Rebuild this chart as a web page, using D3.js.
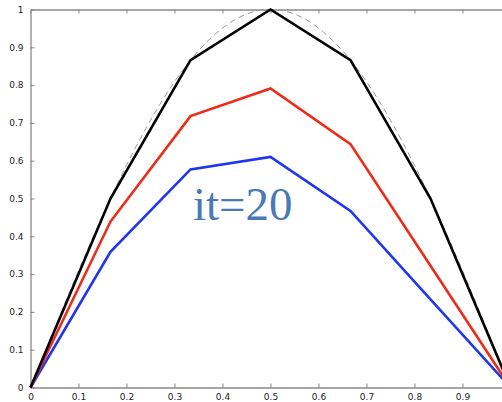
<!DOCTYPE html>
<html><head><meta charset="utf-8">
<script src="https://cdn.jsdelivr.net/npm/d3@7"></script>
<style>body{margin:0;background:#fff}svg{display:block}</style>
</head><body>
<svg id="c" width="502" height="402"></svg>
<script>
const xGrid = [0, 1/6, 1/3, 1/2, 2/3, 5/6, 1];
const exact = [0, 0.5, 0.866, 1, 0.866, 0.5, 0];
const red   = [0, 0.439, 0.718, 0.791, 0.644, 0.322, 0];
const blue  = [0, 0.359, 0.577, 0.610, 0.467, 0.233, 0];
const xTrue = [0,0.05,0.1,0.15,0.2,0.25,0.3,0.35,0.4,0.45,0.5,0.55,0.6,0.65,0.7,0.75,0.8,0.85,0.9,0.95,1];
const yTrue = [0,0.156,0.309,0.454,0.588,0.707,0.809,0.891,0.951,0.988,1,0.988,0.951,0.891,0.809,0.707,0.588,0.454,0.309,0.156,0];
const xTicks = [0,0.1,0.2,0.3,0.4,0.5,0.6,0.7,0.8,0.9];
const yTicks = [0,0.1,0.2,0.3,0.4,0.5,0.6,0.7,0.8,0.9,1];
const label = "it=20";

const svg = d3.select("#c");
const x = d3.scaleLinear().domain([0,1]).range([30.5, 510.5]);
const y = d3.scaleLinear().domain([0,1]).range([387.5, 9.5]);
const fmt = d => d === 0 ? "0" : d === 1 ? "1" : d3.format(".1f")(d);

const axCol = "#888";
const gx = svg.append("g").attr("transform","translate(0,387.5)")
  .call(d3.axisBottom(x).tickValues(xTicks).tickFormat(fmt).tickSizeInner(-4).tickSizeOuter(0).tickPadding(6));
const gt = svg.append("g").attr("transform","translate(0,9.5)")
  .call(d3.axisTop(x).tickValues(xTicks).tickFormat("").tickSizeInner(-4).tickSizeOuter(0));
const gy = svg.append("g").attr("transform","translate(30.5,0)")
  .call(d3.axisLeft(y).tickValues(yTicks).tickFormat(fmt).tickSizeInner(-4).tickSizeOuter(0).tickPadding(7));
[gx,gt,gy].forEach(g=>{
  g.selectAll("path.domain").attr("stroke",axCol).attr("stroke-width",1.3);
  g.selectAll(".tick line").attr("stroke",axCol);
  g.selectAll("text").attr("fill","#222").style("font-family","DejaVu Sans, sans-serif").style("font-size","9px");
});

svg.append("path")
  .datum(xTrue.map((d,i)=>[d,yTrue[i]]))
  .attr("fill","none").attr("stroke","#999").attr("stroke-width",1).attr("stroke-dasharray","6,4")
  .attr("d", d3.line().x(d=>x(d[0])).y(d=>y(d[1])).curve(d3.curveNatural));

const line = d3.line().x(d=>x(d[0])).y(d=>y(d[1]));
[[blue,"#1f35f0"],[red,"#f02a18"],[exact,"#000"]].forEach(([vals,col])=>{
  svg.append("path").datum(xGrid.map((d,i)=>[d,vals[i]]))
    .attr("fill","none").attr("stroke",col).attr("stroke-width",2.6).attr("stroke-linejoin","miter")
    .attr("d", line);
});

svg.append("text").attr("x",193).attr("y",220).text(label)
  .attr("fill","#4a7ab5").style("font-family","Liberation Serif, Times New Roman, serif").style("font-size","47px");
</script>
</body></html>
